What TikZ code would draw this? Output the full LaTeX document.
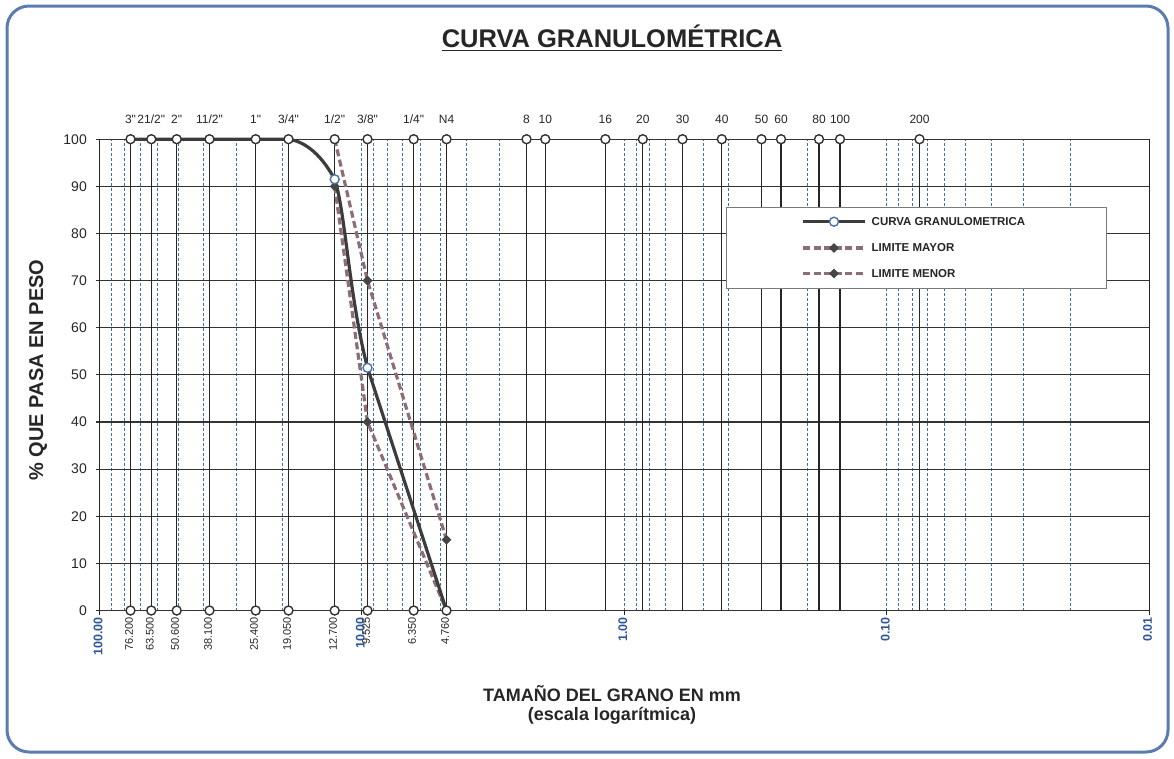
\documentclass[tikz,border=0pt]{standalone}
\usepackage{fontspec}
\setmainfont{Liberation Sans}
\usetikzlibrary{shapes.geometric}
\definecolor{frameblue}{HTML}{5B7CB2}
\definecolor{gridblue}{HTML}{3F6FB5}
\definecolor{limcol}{HTML}{8E6E76}
\definecolor{curvecol}{HTML}{3C3C3C}
\definecolor{darkdia}{HTML}{454545}
\definecolor{mkblue}{HTML}{4A72B0}
\definecolor{labblue}{HTML}{2E5597}
\definecolor{txt}{HTML}{262626}
\definecolor{leggray}{HTML}{7A7A7A}
\newcommand{\qq}{\textquotedbl}
\begin{document}
\begin{tikzpicture}[x=1pt,y=-1pt,
  sieveline/.style={draw=black!85, line width=1.2pt},
  hgrid/.style={draw=black!80, line width=1.1pt},
  vminor/.style={draw=gridblue, line width=0.9pt, dash pattern=on 3pt off 2pt},
  sievemk/.style={circle, draw=black!80, fill=white, line width=1.4pt, minimum size=9pt, inner sep=0pt},
  curvemk/.style={circle, draw=mkblue, fill=white, line width=1.4pt, minimum size=9pt, inner sep=0pt},
  diamk/.style={diamond, fill=darkdia, minimum size=10pt, inner sep=0pt},
  curveline/.style={draw=curvecol, line width=3.2pt},
  limline/.style={draw=limcol, line width=3.2pt, dash pattern=on 7pt off 3.5pt},
  toplab/.style={font=\fontsize{12}{14}\selectfont, text=txt, inner sep=0pt},
  botlab/.style={font=\fontsize{11}{13}\selectfont, text=txt, rotate=90, anchor=east, inner sep=0pt},
  declab/.style={font=\bfseries\fontsize{12.5}{14}\selectfont, text=labblue, rotate=90, anchor=east, inner sep=0pt},
  ylabsty/.style={font=\fontsize{14}{16}\selectfont, text=txt, anchor=east, inner sep=0pt},
  legtext/.style={font=\bfseries\fontsize{11.5}{13}\selectfont, text=txt, anchor=west, inner sep=0pt},
]
\useasboundingbox (0,0) rectangle (1174,758);
\fill[white] (0,0) rectangle (1174,758);
\draw[frameblue, line width=3pt, rounded corners=22pt] (7,6) rectangle (1168,752);

% title
\node[font=\bfseries\fontsize{25.5}{28}\selectfont, text=txt, inner sep=0pt, anchor=base] (title) at (612,47) {CURVA GRANULOMÉTRICA};
\draw[txt, line width=1.8pt] ([yshift=-3.5pt]title.base west) -- ([yshift=-3.5pt]title.base east);

% axis titles
\node[font=\bfseries\fontsize{20}{24}\selectfont, text=txt, rotate=90, inner sep=0pt] (ytitle) at (38,370) {\% QUE PASA EN PESO};
\node[font=\bfseries\fontsize{18}{22}\selectfont, text=txt, inner sep=0pt] (xtitle) at (612,694) {TAMAÑO DEL GRANO EN mm};
\node[font=\bfseries\fontsize{18}{22}\selectfont, text=txt, inner sep=0pt] (xsub) at (612,716) {(escala logarítmica)};

\begin{scope}[shift={(0,610.5)}, y=4.713pt]
  % minor log grid (blue dashed)
  \foreach \s in {99.5,361.9,624.3,886.7}{
    \foreach \o in {12.0,25.43,40.65,58.21,78.99,104.42,137.2,183.41}
      \draw[vminor] (\s+\o,0) -- (\s+\o,100);
  }
  \foreach \s in {361.9,624.3,886.7}
    \draw[vminor] (\s,0) -- (\s,100);
  % horizontal grid
  \foreach \p in {0,10,...,100}{
    \draw[hgrid] (95.5,\p) -- (1149.1,\p);
    \node[ylabsty] (yl\p) at (87,\p) {\p};
  }
  % axes
  \draw[black!85, line width=1.4pt] (99.5,0) -- (99.5,100);
  \draw[black!85, line width=1.2pt] (1149.1,0) -- (1149.1,100);
  \foreach \s in {99.5,361.9,624.3,886.7,1149.1}
    \draw[black!85, line width=1pt] (\s,0) -- (\s,-0.9);
  % sieve lines
  \foreach \x [count=\i] in {130.5,151.3,176.7,209.5,255.7,288.5,334.7,367.5,413.7,446.5,526.5,545.3,605.4,642.8,682.5,721.8,761.5,781,819,840,919.5}{
    \coordinate (sb\i) at (\x,0);
    \coordinate (sc\i) at (\x,100);
    \draw[sieveline] (sb\i) -- (sc\i);
  }
  % limits
  \coordinate (M1) at (334.7,100);
  \coordinate (M2) at (367.5,70);
  \coordinate (M3) at (446.5,15);
  \coordinate (m1) at (334.7,90);
  \coordinate (m2) at (367.5,40);
  \coordinate (m3) at (446.5,0);
  \draw[limline] (M1) -- (M2) -- (M3);
  \draw[limline] (m1) -- (m2) -- (m3);
  % main curve
  \coordinate (c0) at (130.5,100);
  \coordinate (c1) at (288.5,100);
  \coordinate (c2) at (334.7,91.5);
  \coordinate (c3) at (367.5,51.5);
  \coordinate (c4) at (446.5,0);
  \draw[curveline] (c0) -- (c1) .. controls (302,99.6) and (319,97.6) .. (c2) .. controls (345.5,84.5) and (348.9,66.8) .. (c3) -- (c4);
  % diamonds
  \node[diamk] (dM2) at (M2) {};
  \node[diamk] (dM3) at (M3) {};
  \node[diamk] (dm1) at (m1) {};
  \node[diamk] (dm2) at (m2) {};
  % curve markers
  \node[curvemk] (mc2) at (c2) {};
  \node[curvemk] (mc3) at (c3) {};
  % sieve markers and labels
  \foreach \x/\lab [count=\i] in {130.5/{3\qq},151.3/{21/2\qq},176.7/{2\qq},209.5/{11/2\qq},255.7/{1\qq},288.5/{3/4\qq},334.7/{1/2\qq},367.5/{3/8\qq},413.7/{1/4\qq},446.5/{N4},526.5/8,545.3/10,605.4/16,642.8/20,682.5/30,721.8/40,761.5/50,781/60,819/80,840/100,919.5/200}{
    \node[sievemk] (st\i) at (\x,100) {};
    \node[toplab] (tl\i) at (\x,104.3) {\lab};
    \ifnum\i<11 \node[sievemk] (sbm\i) at (\x,0) {};\fi
  }
  % bottom size labels
  \foreach \x/\lab [count=\i] in {130.5/76.200,151.3/63.500,176.7/50.600,209.5/38.100,255.7/25.400,288.5/19.050,334.7/12.700,367.5/9.525,413.7/6.350,446.5/4.760}
    \node[botlab] (bl\i) at (\x-1.5,-1.4) {\lab};
  \foreach \x/\lab [count=\i] in {99.5/100.00,361.9/10.00,624.3/1.00,886.7/0.10,1149.1/0.01}
    \node[declab] (dl\i) at (\x-1.5,-1.4) {\lab};
\end{scope}

% legend
\node[draw=leggray, fill=white, line width=0.9pt, minimum width=380pt, minimum height=81pt, anchor=north west, inner sep=0pt] (leg) at (726,207) {};
\coordinate (ls1) at (803,221.7); \coordinate (le1) at (865,221.7);
\coordinate (ls2) at (803,248); \coordinate (le2) at (865,248);
\coordinate (ls3) at (803,273.5); \coordinate (le3) at (865,273.5);
\draw[curveline] (ls1) -- (le1);
\draw[limline] (ls2) -- (le2);
\draw[limline] (ls3) -- (le3);
\node[curvemk] (lm1) at (834,221.7) {};
\node[diamk] (lm2) at (834,248) {};
\node[diamk] (lm3) at (834,273.5) {};
\node[legtext] (lt1) at (871.5,221.7) {CURVA GRANULOMETRICA};
\node[legtext] (lt2) at (871.5,248) {LIMITE MAYOR};
\node[legtext] (lt3) at (871.5,273.5) {LIMITE MENOR};
\end{tikzpicture}
\end{document}
